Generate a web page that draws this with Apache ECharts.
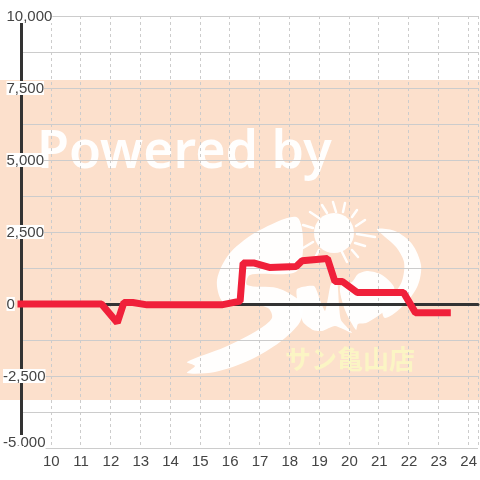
<!DOCTYPE html>
<html><head><meta charset="utf-8">
<style>html,body{margin:0;padding:0;background:#fff}#c{width:480px;height:480px}</style>
<script src="https://cdn.jsdelivr.net/npm/echarts@6/dist/echarts.min.js"></script>
</head><body><div id="c"></div>
<script>
const hours = [9, 11.7, 12.23, 12.45, 12.75, 13.23, 15.73, 16.35, 16.45, 16.83, 17.33, 18.23, 18.43, 19.28, 19.53, 19.78, 20.28, 21.83, 22.23, 23.3];
const values = [0, 0, -650, 50, 50, -30, -30, 100, 1420, 1420, 1270, 1300, 1500, 1580, 780, 780, 400, 400, -300, -300];
const yTicks = [10000, 7500, 5000, 2500, 0, -2500, -5000];

const white = 'rgba(255,255,255,0.96)';
const poly = (points, smooth) => ({type:'polygon', z:-8, silent:true, shape:{points, smooth}, style:{fill:white}});
const ray = (x1,y1,x2,y2) => ({type:'line', z:-8, silent:true, shape:{x1,y1,x2,y2}, style:{stroke:white, lineWidth:2.5, lineCap:'round'}});

const graphics = [
  {type:'rect', z:-10, silent:true, shape:{x:0,y:80,width:480,height:320}, style:{fill:'#FCE0CC'}},
  {type:'text', z:-8, silent:true, x:37, y:127, style:{text:'Powered by', fill:white, font:'600 52px "Noto Sans"'}},
  poly([[298,218],[260,230],[230,253],[217,280],[223,302],[245,303],[268,308],[272,318],[258,330],[225,347],[187,362],[195,366],[187,373],[215,372],[250,360],[280,342],[300,322],[302,305],[295,297],[277,288],[247,285],[250,275],[298,270]], 0.3),
  poly([[297,289],[314,286],[320,300],[325,311],[328,298],[331,284],[337,282],[339,305],[341,320],[352,333],[335,326],[322,331],[313,330],[303,322],[298,305]], 0.2),
  poly([[340,287],[352,282],[358,274],[368,271],[382,275],[394,287],[392,304],[378,316],[366,323],[358,324],[356,330],[345,310]], 0.25),
  poly([[377,229],[395,231],[412,244],[421,265],[418,285],[405,304],[385,318],[382,302],[392,296],[402,281],[404,262],[396,247],[385,237]], 0.3),
  {type:'circle', z:-8, silent:true, shape:{cx:334,cy:233,r:20}, style:{fill:white}},
  ray(333,202,336,212), ray(345,203,343,212), ray(357,210,352,217), ray(365,220,356,226),
  ray(310,212,319,218), ray(322,205,327,213), ray(303,225,313,228), ray(303,248,313,242),
  ray(315,258,319,250), ray(342,252,347,262), ray(352,250,358,257), ray(355,243,365,246), ray(357,234,375,237),
  {type:'text', z:-8, silent:true, x:285, y:346, style:{text:'サン亀山店', fill:'#FBF5C4', font:'700 26px "Noto Sans CJK JP"'}},
  {type:'rect', z:100, silent:true, shape:{x:17,y:446,width:7,height:4}, style:{fill:'#fff'}}
];

const labelStyle = {color:'#444', fontFamily:'"Liberation Sans"', fontSize:15};
const fmt = v => {
  if (v % 2500 !== 0) return '';
  const s = v.toLocaleString('en-US');
  if (v < 0) return '{n|' + s + '}';
  return '{s|}{n|' + s + '}';
};
const chart = echarts.init(document.getElementById('c'), null, {renderer:'canvas'});
chart.setOption({
  animation:false,
  backgroundColor:'#fff',
  graphic:{elements:graphics},
  grid:{left:20,right:0,top:16,bottom:32},
  xAxis:[{
    type:'value', min:9, max:24.33, interval:1, position:'bottom',
    axisLine:{show:false, onZero:false}, axisTick:{show:false},
    axisLabel:{...labelStyle, margin:6, padding:[0,0,0,1], showMaxLabel:false, formatter:v=>v>=10?String(v):''},
    splitLine:{show:true, lineStyle:{color:'#ccc',type:[3,3],width:1}}
  },{
    type:'value', min:9, max:24.33, interval:1,
    axisLine:{show:true, onZero:true, lineStyle:{color:'#333',width:3}},
    axisTick:{show:false}, axisLabel:{show:false}, splitLine:{show:false}
  }],
  yAxis:{
    type:'value', min:-5000, max:10000, interval:1250,
    axisLine:{show:true, onZero:false, lineStyle:{color:'#333',width:3}}, axisTick:{show:false},
    axisLabel:{
      ...labelStyle, align:'left', margin:18, verticalAlignMinLabel:'bottom',
      formatter:fmt,
      rich:{
        s:{width:3.5, height:14},
        n:{...labelStyle, backgroundColor:'#fff', height:12, lineHeight:12, padding:[2,0,0,0]}
      }
    },
    splitLine:{show:true, lineStyle:{color:'#ccc',width:1}}
  },
  series:[{
    type:'line', xAxisIndex:0, symbol:'none', clip:false,
    data:hours.map((h,i)=>[h,values[i]]),
    lineStyle:{color:'#F0203A',width:7,cap:'square'}
  }]
});
</script></body></html>
